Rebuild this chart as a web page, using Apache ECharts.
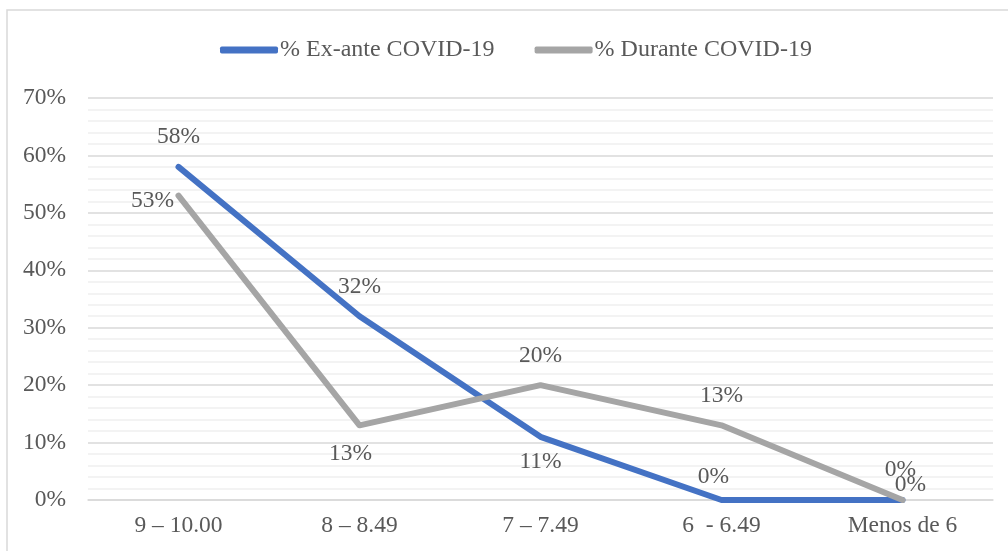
<!DOCTYPE html>
<html>
<head>
<meta charset="utf-8">
<script src="https://cdn.jsdelivr.net/npm/echarts@6/dist/echarts.min.js"></script>
<style>
html,body{margin:0;padding:0;background:#fff;}
#c{width:1008px;height:551px;}
</style>
</head>
<body>
<div id="c"></div>
<script>
const categories = ['9 – 10.00', '8 – 8.49', '7 – 7.49', '6  - 6.49', 'Menos de 6'];
const seriesNames = ['% Ex-ante COVID-19', '% Durante COVID-19'];
const exAnte = [0.58, 0.32, 0.11, 0, 0];
const durante = [0.53, 0.13, 0.20, 0.13, 0];
const yTicks = [0, 0.1, 0.2, 0.3, 0.4, 0.5, 0.6, 0.7];

const FONT = '"Liberation Serif", "Times New Roman", serif';
const TXT = '#595959';
const FS = 23.5;
const pct = v => Math.round(v * 100) + '%';

// label offsets (layout only)
const offA = [[0,-30],[0,-29],[0,25],[-8,-23],[-2,-30]];
const offB = [[-26,5],[-9,28],[0,-29],[0,-30],[8,-15]];

function mk(vals, offs) {
  return vals.map((v, i) => ({
    value: v,
    label: { offset: offs[i] }
  }));
}

const chart = echarts.init(document.getElementById('c'), null, {renderer: 'canvas'});
chart.setOption({
  animation: false,
  backgroundColor: '#fff',
  graphic: [{
    type: 'rect', silent: true, z: -10,
    shape: { x: 7, y: 10, width: 1100, height: 700 },
    style: { fill: 'none', stroke: '#D9D9D9', lineWidth: 1.5 }
  }],
  legend: {
    left: 215, top: 33,
    itemWidth: 58, itemHeight: 7, itemGap: 40,
    icon: 'roundRect',
    textStyle: { fontFamily: FONT, fontSize: 24, color: TXT, padding: [0,0,0,-3] },
    data: seriesNames
  },
  grid: { left: 88, right: 15, top: 98, bottom: 51, containLabel: false },
  xAxis: {
    type: 'category',
    data: categories,
    boundaryGap: true,
    axisLine: { lineStyle: { color: '#D9D9D9', width: 1.5 } },
    axisTick: { show: false },
    axisLabel: { fontFamily: FONT, fontSize: FS, color: TXT, margin: 14 }
  },
  yAxis: {
    type: 'value',
    min: yTicks[0], max: yTicks[yTicks.length - 1], interval: 0.1,
    axisLine: { show: false },
    axisTick: { show: false },
    axisLabel: { fontFamily: FONT, fontSize: FS, color: TXT, margin: 22, formatter: pct },
    splitLine: { lineStyle: { color: '#D9D9D9', width: 1.5 } },
    minorTick: { show: false, splitNumber: 5 },
    minorSplitLine: { show: true, lineStyle: { color: '#F0F0F0', width: 1.5 } }
  },
  series: [
    {
      name: seriesNames[0], type: 'line',
      data: mk(exAnte, offA),
      symbol: 'circle', symbolSize: 0.1, showSymbol: true,
      lineStyle: { color: '#4472C4', width: 6, cap: 'round', join: 'round' },
      itemStyle: { color: '#4472C4' },
      label: { show: true, position: 'inside', formatter: p => pct(p.value), fontFamily: FONT, fontSize: FS, color: TXT },
      z: 3
    },
    {
      name: seriesNames[1], type: 'line',
      data: mk(durante, offB),
      symbol: 'circle', symbolSize: 0.1, showSymbol: true,
      lineStyle: { color: '#A5A5A5', width: 6, cap: 'round', join: 'round' },
      itemStyle: { color: '#A5A5A5' },
      label: { show: true, position: 'inside', formatter: p => pct(p.value), fontFamily: FONT, fontSize: FS, color: TXT },
      z: 4
    }
  ]
});
</script>
</body>
</html>
